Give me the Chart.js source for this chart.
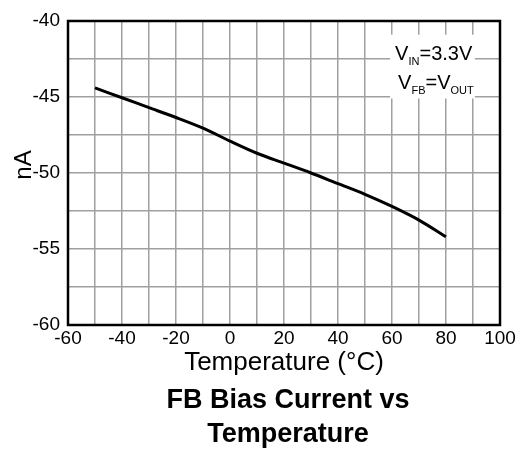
<!DOCTYPE html>
<html>
<head>
<meta charset="utf-8">
<script src="https://cdn.jsdelivr.net/npm/chart.js@4/dist/chart.umd.min.js"></script>
<style>
  body { margin: 0; background: #fff; }
  canvas { display: block; }
</style>
</head>
<body>
<canvas id="chart" width="521" height="450"></canvas>
<script>
// values, every 10 °C
const temps = [-50, -40, -30, -20, -10, 0, 10, 20, 30, 40, 50, 60, 70, 80];
const biasCurrent = [-44.4, -45.05, -45.7, -46.35, -47.05, -47.9, -48.7, -49.35, -50.0, -50.7, -51.4, -52.2, -53.1, -54.2];

const xTickLabels = [-60, -40, -20, 0, 20, 40, 60, 80, 100];
const yTickLabels = [-60, -55, -50, -45, -40];

const titleLines = ['FB Bias Current vs', 'Temperature'];
const yTitle = 'nA';

const FONT = "'Liberation Sans', Arial, sans-serif";

// note box, frame, y title and caption (caption is centred under the plot, not the canvas)
const extrasPlugin = {
  id: 'extras',
  beforeDatasetsDraw(chart) {
    const ctx = chart.ctx;
    const xs = chart.scales.x, ys = chart.scales.y;
    const x0 = xs.getPixelForValue(59.3), x1 = xs.getPixelForValue(90.7);
    const y0 = ys.getPixelForValue(-40.9), y1 = ys.getPixelForValue(-45.1);
    ctx.save();
    ctx.fillStyle = '#fff';
    ctx.fillRect(x0, y0, x1 - x0, y1 - y0);
    ctx.fillStyle = '#000';
    ctx.textBaseline = 'alphabetic';
    const big = '20px ' + FONT, small = '11px ' + FONT;
    function run(parts, x, y) {
      parts.forEach(p => {
        ctx.font = p[1] ? small : big;
        ctx.fillText(p[0], x, p[1] ? y + 5 : y);
        x += ctx.measureText(p[0]).width;
      });
    }
    run([['V', 0], ['IN', 1], ['=3.3V', 0]], x0 + 5, y0 + 25);
    run([['V', 0], ['FB', 1], ['=V', 0], ['OUT', 1]], x0 + 8, y0 + 54);
    ctx.restore();
  },
  afterDraw(chart) {
    const a = chart.chartArea, ctx = chart.ctx;
    ctx.save();
    ctx.strokeStyle = '#000';
    ctx.lineWidth = 2.5;
    ctx.strokeRect(a.left, a.top, a.right - a.left, a.bottom - a.top);

    ctx.fillStyle = '#000';
    ctx.textAlign = 'center';
    ctx.textBaseline = 'middle';
    ctx.font = '24px ' + FONT;
    ctx.save();
    ctx.translate(24, 165);
    ctx.rotate(-Math.PI / 2);
    ctx.fillText(yTitle, 0, 0);
    ctx.restore();

    ctx.font = 'bold 27px ' + FONT;
    const cx = (a.left + a.right) / 2 + 4;
    titleLines.forEach((t, i) => ctx.fillText(t, cx, 401 + i * 34));
    ctx.restore();
  }
};

new Chart(document.getElementById('chart'), {
  type: 'line',
  data: {
    datasets: [{
      data: temps.map((t, i) => ({ x: t, y: biasCurrent[i] })),
      borderColor: '#000',
      borderWidth: 3,
      pointRadius: 0,
      tension: 0.3,
      fill: false
    }]
  },
  options: {
    responsive: false,
    animation: false,
    devicePixelRatio: 1,
    layout: { padding: { left: 0, right: 21, top: 21, bottom: 66 } },
    plugins: {
      legend: { display: false },
      tooltip: { enabled: false },
      title: { display: false }
    },
    scales: {
      x: {
        type: 'linear',
        min: -60, max: 100,
        afterFit(s) { s.height = 59; },
        ticks: {
          stepSize: 10,
          autoSkip: false,
          maxRotation: 0,
          padding: 2,
          color: '#000',
          font: { family: FONT, size: 19 },
          callback: v => xTickLabels.includes(v) ? String(v) : ''
        },
        grid: { color: '#a0a0a0', lineWidth: 1.5, drawTicks: false },
        border: { display: false },
        title: {
          display: true,
          text: 'Temperature (°C)',
          color: '#000',
          font: { family: FONT, size: 26, lineHeight: 1.2 },
          padding: { top: 0, bottom: 6 }
        }
      },
      y: {
        type: 'linear',
        min: -60, max: -40,
        afterFit(s) { s.width = 68; },
        ticks: {
          stepSize: 2.5,
          autoSkip: false,
          padding: 8,
          color: '#000',
          font: { family: FONT, size: 19 },
          callback: v => yTickLabels.includes(v) ? String(v) : ''
        },
        grid: { color: '#a0a0a0', lineWidth: 1.5, drawTicks: false },
        border: { display: false },
        title: { display: false }
      }
    }
  },
  plugins: [extrasPlugin]
});
</script>
</body>
</html>
